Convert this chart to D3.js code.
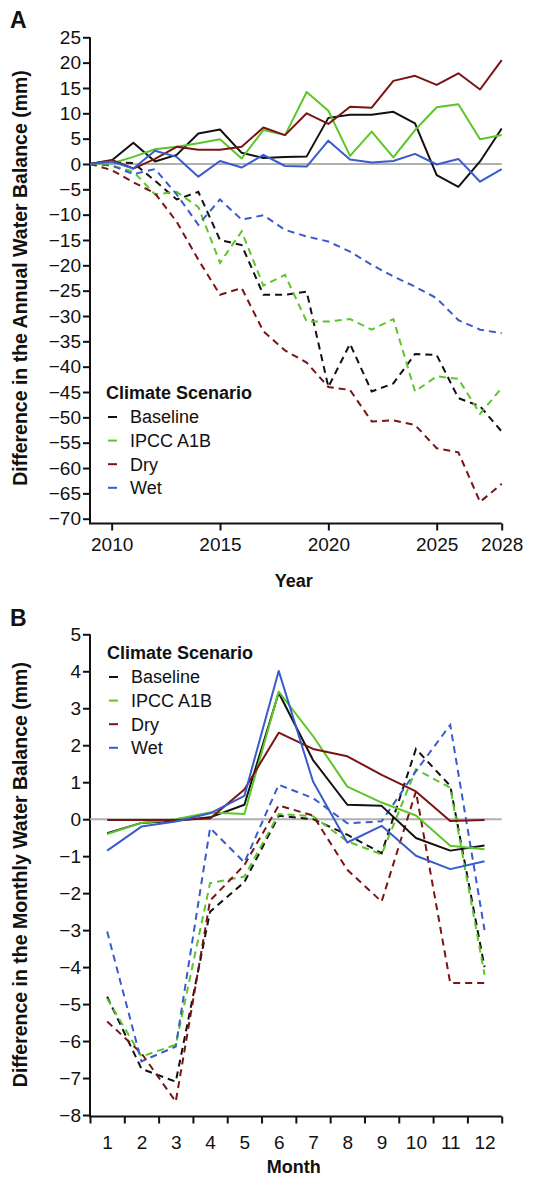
<!DOCTYPE html>
<html>
<head>
<meta charset="utf-8">
<script src="https://cdn.jsdelivr.net/npm/d3@7"></script>
<style>
  body { margin: 0; background: #fff; }
  svg text { font-family: "Liberation Sans", Arial, Helvetica, sans-serif; fill: #111; }
  .axis text { font-size: 19px; }
  .axis path, .axis line { stroke: #111; stroke-width: 2; }
  .axis-title { font-size: 18px; font-weight: bold; }
  .y-title { font-size: 19.5px; }
  .panel-label { font-size: 23px; font-weight: bold; }
  .legend-title { font-size: 18px; font-weight: bold; }
  .legend-item { font-size: 18px; }
</style>
</head>
<body>
<svg id="chart" width="533" height="1178"></svg>
<script>
// scenario names + colours
const scenarios = ["Baseline", "IPCC A1B", "Dry", "Wet"];
const scenarioColors = ["#111111", "#5cc52a", "#7a1414", "#3a5bcc"];

// ---- panel A : annual ----
const years = [2009, 2010, 2011, 2012, 2013, 2014, 2015, 2016, 2017, 2018,
               2019, 2020, 2021, 2022, 2023, 2024, 2025, 2026, 2027, 2028];
const yearTicks = [2010, 2015, 2020, 2025, 2028];
const annualTicks = [25, 20, 15, 10, 5, 0, -5, -10, -15, -20, -25, -30, -35, -40,
                     -45, -50, -55, -60, -65, -70];

// solid lines
const baselineAnnual = [0, 0.7, 4.2, 0.5, 1.8, 6.0, 6.8, 2.2, 1.2, 1.4, 1.5, 9.1, 9.7, 9.7, 10.3, 8.0, -2.2, -4.5, 0.5, 7.0];
const a1bAnnual      = [0, 0.1, 1.4, 2.9, 3.4, 4.1, 4.9, 1.1, 6.7, 5.7, 14.2, 10.5, 1.6, 6.4, 1.3, 6.7, 11.2, 11.8, 4.9, 5.7];
const dryAnnual      = [0, 0.8, -0.9, 1.0, 3.4, 2.8, 2.8, 3.4, 7.2, 5.7, 10.0, 7.9, 11.3, 11.1, 16.4, 17.4, 15.6, 17.9, 14.7, 20.5];
const wetAnnual      = [0, 0.5, -0.9, 2.6, 1.4, -2.5, 0.6, -0.7, 1.8, -0.4, -0.5, 4.6, 0.9, 0.3, 0.6, 2.0, -0.1, 1.0, -3.5, -1.0];
// dashed lines
const baselineAnnualD = [0, 0.3, 0.2, -3.3, -7.0, -5.5, -15.0, -16.0, -25.8, -25.8, -25.2, -44.0, -35.5, -44.9, -43.3, -37.5, -37.7, -46.2, -47.8, -52.8];
const a1bAnnualD      = [0, -0.3, -1.5, -6.0, -5.5, -8.5, -19.5, -13.3, -24.0, -21.9, -31.1, -31.1, -30.6, -32.7, -30.6, -44.9, -41.9, -42.4, -49.3, -44.2];
const dryAnnualD      = [0, -1.2, -3.6, -5.8, -11.4, -18.9, -25.8, -24.5, -33.0, -36.8, -39.2, -44.0, -44.6, -50.8, -50.6, -51.5, -56.1, -56.9, -66.7, -63.1];
const wetAnnualD      = [0, -0.3, -2.0, -1.0, -6.0, -12.0, -7.0, -11.0, -10.1, -13.0, -14.3, -15.3, -17.3, -19.9, -22.2, -24.2, -26.5, -30.8, -32.7, -33.4];

// ---- panel B : monthly ----
const months = [1, 2, 3, 4, 5, 6, 7, 8, 9, 10, 11, 12];
const monthlyTicks = [5, 4, 3, 2, 1, 0, -1, -2, -3, -4, -5, -6, -7, -8];

const baselineMonthly = [-0.38, -0.1, -0.04, 0.05, 0.39, 3.42, 1.6, 0.39, 0.36, -0.51, -0.85, -0.71];
const a1bMonthly      = [-0.4, -0.1, 0.0, 0.18, 0.14, 3.45, 2.25, 0.88, 0.45, 0.1, -0.72, -0.81];
const dryMonthly      = [-0.02, -0.02, -0.02, 0.02, 0.8, 2.34, 1.9, 1.7, 1.2, 0.75, -0.05, -0.02];
const wetMonthly      = [-0.85, -0.2, -0.06, 0.16, 0.63, 4.01, 1.02, -0.63, -0.18, -0.99, -1.35, -1.14];

const baselineMonthlyD = [-4.8, -6.75, -7.1, -2.5, -1.7, 0.09, 0.0, -0.42, -0.92, 1.9, 0.9, -4.0];
const a1bMonthlyD      = [-4.85, -6.42, -6.1, -1.73, -1.55, 0.14, 0.08, -0.6, -0.95, 1.35, 0.85, -4.21];
const dryMonthlyD      = [-5.47, -6.33, -7.64, -2.2, -1.24, 0.37, 0.1, -1.37, -2.23, 0.75, -4.43, -4.43];
const wetMonthlyD      = [-3.04, -6.55, -6.15, -0.24, -1.17, 0.93, 0.57, -0.11, -0.06, 1.3, 2.55, -3.0];


class WaterChart {

  constructor(_config, _x, _solid, _dashed) {
    this.config = _config;
    this.xVals = _x;
    this.solid = _solid;
    this.dashed = _dashed;
    this.initVis();
  }

  initVis() {
    let vis = this;
    let c = vis.config;
    vis.svg = d3.select(c.parentElement);
    vis.g = vis.svg.append('g');

    vis.xScale = d3.scaleLinear().domain(c.xDomain).range([c.left, c.right]);
    vis.yScale = d3.scaleLinear().domain(c.yDomain).range([c.bottom, c.top]);

    // y axis (ticks + labels), domain drawn by hand so it meets the x axis
    vis.g.append('g')
      .attr('class', 'axis y-axis')
      .attr('transform', `translate(${c.left},0)`)
      .call(d3.axisLeft(vis.yScale).tickValues(c.yTicks).tickSize(7).tickPadding(2).tickSizeOuter(0))
      .call(g => g.select('.domain').remove());

    // x axis
    let xAxis = d3.axisBottom(vis.xScale).tickValues(c.xTicks).tickSize(7).tickSizeOuter(0);
    if (c.xLabelTicks) xAxis.tickFormat('');
    else xAxis.tickFormat(d3.format('d')).tickPadding(c.xLabelPad);
    vis.g.append('g')
      .attr('class', 'axis x-axis')
      .attr('transform', `translate(0,${c.axisY})`)
      .call(xAxis)
      .call(g => g.select('.domain').remove());

    if (c.xLabelTicks) {
      // labels sit between the ticks (months)
      vis.g.append('g')
        .attr('class', 'axis x-labels')
        .attr('transform', `translate(0,${c.axisY})`)
        .call(d3.axisBottom(vis.xScale).tickValues(c.xLabelTicks).tickSize(0).tickPadding(c.xLabelPad).tickFormat(d => d3.format('d')(d + c.xShift)))
        .call(g => g.select('.domain').remove());
    }

    // the L shaped frame
    vis.g.append('path')
      .attr('fill', 'none')
      .attr('stroke', '#111')
      .attr('stroke-width', 2)
      .attr('d', `M${c.left},${vis.yScale(c.yDomain[1])}V${c.axisY}H${c.right}`);

    // zero reference line
    vis.g.append('line')
      .attr('x1', c.left).attr('x2', c.right)
      .attr('y1', vis.yScale(0)).attr('y2', vis.yScale(0))
      .attr('stroke', '#b0b0b0')
      .attr('stroke-width', 2);

    vis.line = d3.line()
      .x((d, i) => vis.xScale(vis.xVals[i] - c.xShift))
      .y(d => vis.yScale(d));

    vis.dashed.forEach(function (series, index) {
      vis.g.append('path')
        .datum(series)
        .attr('fill', 'none')
        .attr('stroke', scenarioColors[index])
        .attr('stroke-width', 2)
        .attr('stroke-dasharray', '7,5')
        .attr('d', vis.line);
    });
    vis.solid.forEach(function (series, index) {
      vis.g.append('path')
        .datum(series)
        .attr('fill', 'none')
        .attr('stroke', scenarioColors[index])
        .attr('stroke-width', 2)
        .attr('stroke-linejoin', 'round')
        .attr('d', vis.line);
    });

    // legend
    let lg = vis.g.append('g').attr('transform', `translate(${c.legendX},${c.legendY})`);
    lg.append('text')
      .attr('class', 'legend-title')
      .attr('x', 0).attr('y', 0)
      .attr('dy', '0.35em')
      .text('Climate Scenario');
    scenarios.forEach(function (item, index) {
      let yy = 24 + index * 23.6;
      lg.append('line')
        .attr('x1', 2).attr('x2', 11)
        .attr('y1', yy).attr('y2', yy)
        .attr('stroke', scenarioColors[index])
        .attr('stroke-width', 2);
      lg.append('text')
        .attr('class', 'legend-item')
        .attr('x', 24).attr('y', yy)
        .attr('dy', '0.35em')
        .text(item);
    });

    // titles
    vis.g.append('text')
      .attr('class', 'panel-label')
      .attr('x', 10).attr('y', c.labelY)
      .text(c.panelLabel);

    vis.g.append('text')
      .attr('class', 'axis-title y-title')
      .attr('text-anchor', 'middle')
      .attr('transform', `translate(27,${(c.top + c.bottom) / 2}) rotate(-90)`)
      .text(c.yLabel);

    vis.g.append('text')
      .attr('class', 'axis-title')
      .attr('text-anchor', 'middle')
      .attr('x', (c.left + c.right) / 2 - 2)
      .attr('y', c.xTitleY)
      .text(c.xLabel);
  }
}

new WaterChart({
  parentElement: '#chart',
  left: 90, right: 501.7, top: 37.3, bottom: 518.7, axisY: 523.5,
  xDomain: [2009, 2028], yDomain: [-70, 25], xShift: 0,
  xTicks: yearTicks, yTicks: annualTicks, xLabelPad: 7,
  legendX: 106, legendY: 393,
  panelLabel: 'A', labelY: 28,
  yLabel: 'Difference in the Annual Water Balance (mm)',
  xLabel: 'Year', xTitleY: 587
}, years,
  [baselineAnnual, a1bAnnual, dryAnnual, wetAnnual],
  [baselineAnnualD, a1bAnnualD, dryAnnualD, wetAnnualD]);

new WaterChart({
  parentElement: '#chart',
  left: 90, right: 501.7, top: 634.3, bottom: 1115, axisY: 1116.5,
  xDomain: [0, 12], yDomain: [-8, 5], xShift: 0.5,
  xTicks: [0, 1, 2, 3, 4, 5, 6, 7, 8, 9, 10, 11, 12],
  xLabelTicks: months.map(m => m - 0.5), yTicks: monthlyTicks, xLabelPad: 19,
  legendX: 107, legendY: 653,
  panelLabel: 'B', labelY: 626,
  yLabel: 'Difference in the Monthly Water Balance (mm)',
  xLabel: 'Month', xTitleY: 1173
}, months,
  [baselineMonthly, a1bMonthly, dryMonthly, wetMonthly],
  [baselineMonthlyD, a1bMonthlyD, dryMonthlyD, wetMonthlyD]);
</script>
</body>
</html>
